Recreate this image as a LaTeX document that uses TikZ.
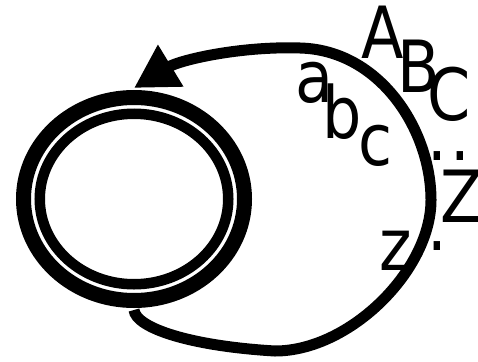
\documentclass[tikz,border=0pt]{standalone}
\usepackage{fontspec}
\setmainfont{DejaVu Sans}[FakeStretch=0.86]
\usetikzlibrary{arrows.meta,shapes.geometric}
\begin{document}
\begin{tikzpicture}[x=1pt,y=-1pt,
  glyph/.style={anchor=base,inner sep=0pt,font=\fontsize{72}{80}\selectfont},
  ring/.style={ellipse,draw,inner sep=0pt},
  loopline/.style={line width=11pt,-{Triangle[length=43pt,width=46pt]}}]
\useasboundingbox (0,0) rectangle (478,361);
\node[ring,line width=15pt,minimum width=221pt,minimum height=203pt,outer sep=9.5pt] (s) at (134,199) {};
\node[ring,line width=10.5pt,minimum width=188.5pt,minimum height=170.5pt] (sin) at (134,199) {};
\draw[loopline] (s.south) .. controls (136,328) and (190,346) .. (275,351)
  .. controls (350,351) and (431,270) .. (431,200)
  .. controls (431,130) and (380,50) .. (300,48)
  .. controls (240,46) and (180,60) .. (s.north);
\node[glyph] (gA) at (382.5,58) {A};
\node[glyph] (gB) at (419,92) {B};
\node[glyph] (gC) at (449,120) {C};
\node[glyph] (ga) at (314,102) {a};
\node[glyph] (gb) at (342,138) {b};
\node[glyph] (gc) at (376,165) {c};
\node[glyph] (gd1) at (437.5,160) {.};
\node[glyph] (gd2) at (460,160) {.};
\node[glyph] (gZ) at (462,222) {Z};
\node[glyph] (gz) at (396,270) {z};
\node[glyph] (gd3) at (437.5,250) {.};
\end{tikzpicture}
\end{document}
